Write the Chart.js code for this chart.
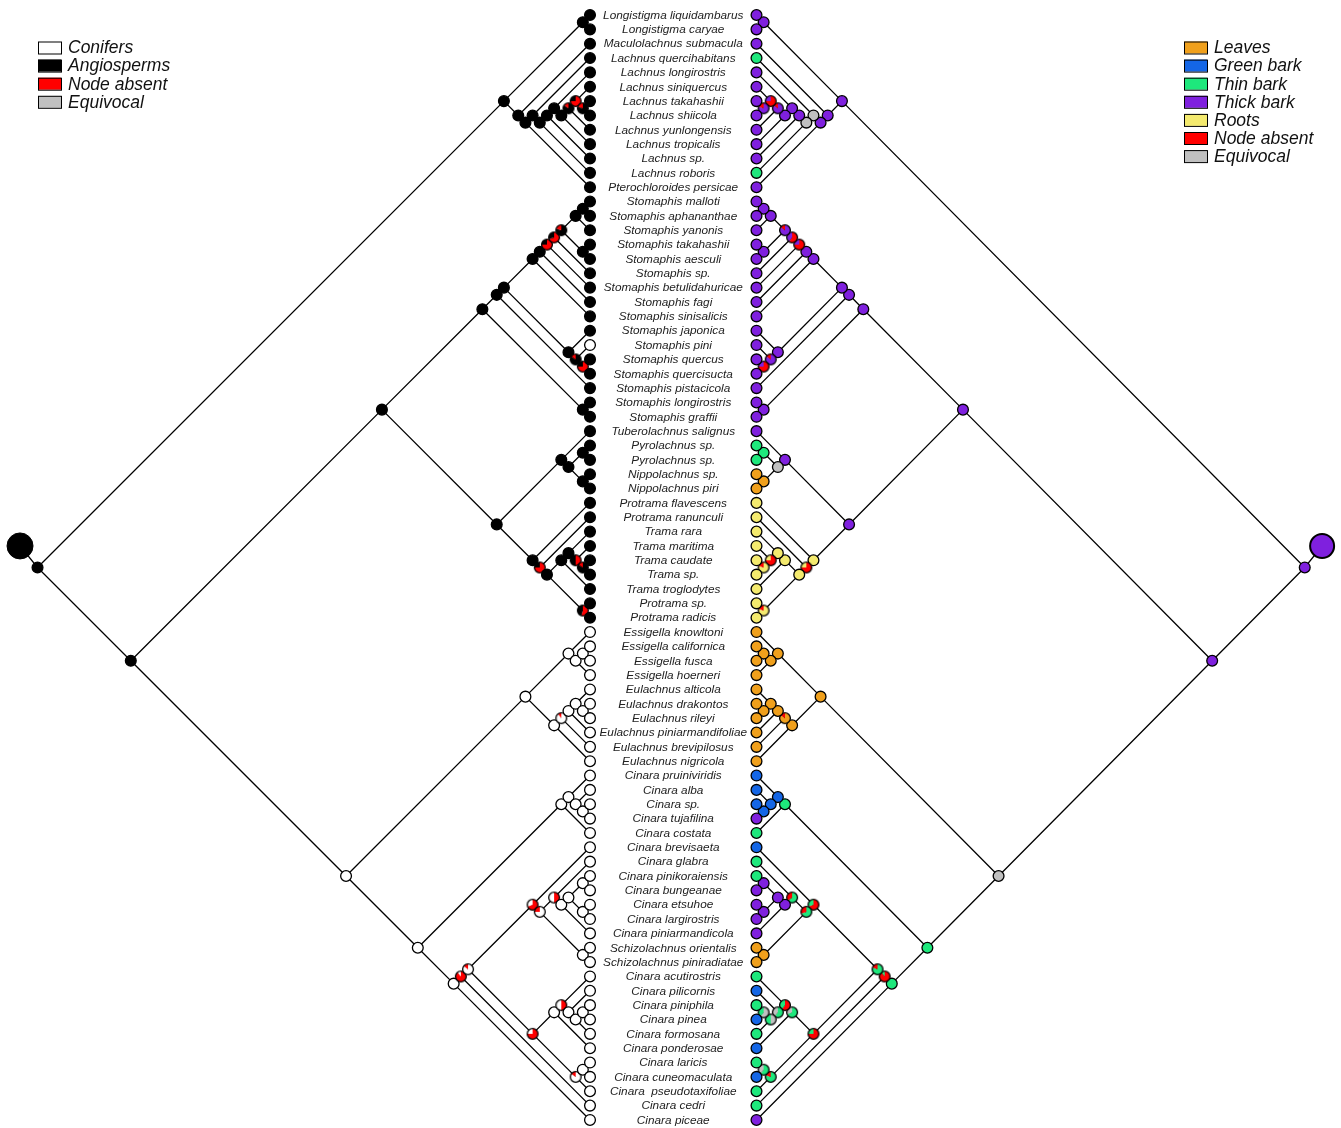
<!DOCTYPE html>
<html>
<head>
<meta charset="utf-8">
<script src="https://cdn.jsdelivr.net/npm/chart.js@4.4.1/dist/chart.umd.min.js"></script>
<style>
  html, body { margin: 0; background: #fff; }
  #wrap { width: 1341px; height: 1128px; position: relative; }
</style>
</head>
<body>
<div id="wrap"><canvas id="tree"></canvas></div>
<script>
// tip labels, top to bottom
const taxa = [
  'Longistigma liquidambarus', 'Longistigma caryae', 'Maculolachnus submacula',
  'Lachnus quercihabitans', 'Lachnus longirostris', 'Lachnus siniquercus', 'Lachnus takahashii',
  'Lachnus shiicola', 'Lachnus yunlongensis', 'Lachnus tropicalis', 'Lachnus sp.', 'Lachnus roboris',
  'Pterochloroides persicae',
  'Stomaphis malloti', 'Stomaphis aphananthae', 'Stomaphis yanonis', 'Stomaphis takahashii',
  'Stomaphis aesculi', 'Stomaphis sp.', 'Stomaphis betulidahuricae', 'Stomaphis fagi',
  'Stomaphis sinisalicis', 'Stomaphis japonica', 'Stomaphis pini', 'Stomaphis quercus',
  'Stomaphis quercisucta', 'Stomaphis pistacicola', 'Stomaphis longirostris', 'Stomaphis graffii',
  'Tuberolachnus salignus', 'Pyrolachnus sp.', 'Pyrolachnus sp.', 'Nippolachnus sp.', 'Nippolachnus piri',
  'Protrama flavescens', 'Protrama ranunculi', 'Trama rara', 'Trama maritima', 'Trama caudate',
  'Trama sp.', 'Trama troglodytes', 'Protrama sp.', 'Protrama radicis',
  'Essigella knowltoni', 'Essigella californica', 'Essigella fusca', 'Essigella hoerneri',
  'Eulachnus alticola', 'Eulachnus drakontos', 'Eulachnus rileyi', 'Eulachnus piniarmandifoliae',
  'Eulachnus brevipilosus', 'Eulachnus nigricola',
  'Cinara pruiniviridis', 'Cinara alba', 'Cinara sp.', 'Cinara tujafilina', 'Cinara costata',
  'Cinara brevisaeta', 'Cinara glabra', 'Cinara pinikoraiensis', 'Cinara bungeanae', 'Cinara etsuhoe',
  'Cinara largirostris', 'Cinara piniarmandicola', 'Schizolachnus orientalis', 'Schizolachnus piniradiatae',
  'Cinara acutirostris', 'Cinara pilicornis', 'Cinara piniphila', 'Cinara pinea', 'Cinara formosana',
  'Cinara ponderosae', 'Cinara laricis', 'Cinara cuneomaculata', 'Cinara  pseudotaxifoliae',
  'Cinara cedri', 'Cinara piceae'
];

// host at tips: A angiosperm, C conifer
const hostTips = ('AAAAAAAAAAAAA' + 'AAAAAAAAAACAAAAA' + 'AAAAAAAAAAAAAA' +
  'CCCCCCCCCC' + 'CCCCCCCCCCCCCCCCCCCCCCCCC').split('');

// feeding site at tips: T thick bark, N thin bark, G green bark, L leaves, R roots
const feedTips = ('TTTNTTTTTTTNT' + 'TTTTTTTTTTTTTTTT' + 'TNNLL' + 'RRRRRRRRR' +
  'LLLLLLLLLL' + 'GGGTNGNNTTTTLLNGNGNGNGNNT').split('');

// internal nodes: [first tip, last tip of upper child, last tip, host state, feeding state]
// X = node absent, Q = equivocal, 'a:p b:q' = pie with shares
const clades = [
  [0, 12, 77, 'A', 'T'],
  [0, 1, 12, 'A', 'T'],
  [0, 0, 1, 'A', 'T'],
  [2, 2, 12, 'A', 'T'],
  [3, 11, 12, 'A', 'T'],
  [3, 3, 11, 'A', 'Q'],
  [4, 10, 11, 'A', 'Q'],
  [4, 9, 10, 'A', 'T'],
  [4, 4, 9, 'A', 'T'],
  [5, 8, 9, 'A', 'T'],
  [5, 7, 8, 'A:85 X:15', 'T:85 X:15'],
  [5, 5, 7, 'X:75 A:25', 'X:75 T:25'],
  [6, 6, 7, 'A:80 X:20', 'T:80 X:20'],
  [13, 42, 77, 'A', 'T'],
  [13, 28, 42, 'A', 'T'],
  [13, 26, 28, 'A', 'T'],
  [27, 27, 28, 'A', 'T'],
  [13, 25, 26, 'A', 'T'],
  [13, 21, 25, 'A', 'T'],
  [22, 22, 25, 'A', 'T'],
  [23, 23, 25, 'A:85 X:15', 'T:85 X:15'],
  [24, 24, 25, 'X:75 A:25', 'X:75 T:25'],
  [13, 20, 21, 'A', 'T'],
  [13, 19, 20, 'A', 'T'],
  [13, 18, 19, 'X:75 A:25', 'X:75 T:25'],
  [13, 17, 18, 'X:70 A:30', 'X:60 T:40'],
  [13, 15, 17, 'A:80 X:20', 'T:85 X:15'],
  [16, 16, 17, 'A', 'T'],
  [13, 14, 15, 'A', 'T'],
  [13, 13, 14, 'A', 'T'],
  [29, 33, 42, 'A', 'T'],
  [29, 29, 33, 'A', 'T'],
  [30, 31, 33, 'A', 'Q'],
  [30, 30, 31, 'A', 'N'],
  [32, 32, 33, 'A', 'L'],
  [34, 34, 42, 'A', 'R'],
  [35, 35, 42, 'X:75 A:25', 'X:75 R:25'],
  [36, 40, 42, 'A', 'R'],
  [41, 41, 42, 'X:55 A:45', 'R:80 X:20'],
  [36, 39, 40, 'A', 'R'],
  [36, 36, 39, 'A', 'R'],
  [37, 37, 39, 'X:50 A:50', 'X:75 R:25'],
  [38, 38, 39, 'A:85 X:15', 'R:80 X:20'],
  [43, 52, 77, 'C', 'Q'],
  [43, 46, 52, 'C', 'L'],
  [43, 43, 46, 'C', 'L'],
  [44, 45, 46, 'C', 'L'],
  [44, 44, 45, 'C', 'L'],
  [47, 51, 52, 'C', 'L'],
  [47, 50, 51, 'C:90 X:10', 'L:85 X:15'],
  [47, 49, 50, 'C', 'L'],
  [47, 47, 49, 'C', 'L'],
  [48, 48, 49, 'C', 'L'],
  [53, 57, 77, 'C', 'N'],
  [53, 56, 57, 'C', 'N'],
  [53, 53, 56, 'C', 'G'],
  [54, 54, 56, 'C', 'G'],
  [55, 55, 56, 'C', 'G'],
  [58, 76, 77, 'C', 'N'],
  [58, 75, 76, 'X:90 C:10', 'X:90 N:10'],
  [58, 66, 75, 'C:85 X:15', 'N:80 X:20'],
  [58, 58, 66, 'X:70 C:30', 'X:70 N:30'],
  [59, 64, 66, 'C:75 X:25', 'N:70 X:30'],
  [65, 65, 66, 'C', 'L'],
  [59, 59, 64, 'X:50 C:50', 'N:65 X:35'],
  [60, 63, 64, 'C', 'T'],
  [60, 61, 63, 'C', 'T'],
  [60, 60, 61, 'C', 'T'],
  [62, 62, 63, 'C', 'T'],
  [67, 72, 75, 'X:75 C:25', 'X:75 N:25'],
  [73, 74, 75, 'C:85 X:15', 'N:80 X:20'],
  [73, 73, 74, 'C', 'N:60 Q:40'],
  [67, 71, 72, 'C', 'N:70 Q:30'],
  [67, 67, 71, 'X:50 C:50', 'X:60 N:40'],
  [68, 68, 71, 'C', 'N:60 Q:40'],
  [69, 70, 71, 'C', 'Q:50 N:50'],
  [69, 69, 70, 'C', 'Q:60 N:40']
];

const hostLegend = [['C', 'Conifers'], ['A', 'Angiosperms'], ['X', 'Node absent'], ['Q', 'Equivocal']];
const feedLegend = [['L', 'Leaves'], ['G', 'Green bark'], ['N', 'Thin bark'], ['T', 'Thick bark'],
  ['R', 'Roots'], ['X', 'Node absent'], ['Q', 'Equivocal']];

const hostColors = { A: '#000000', C: '#ffffff', X: '#ff0000', Q: '#c0c0c0' };
const feedColors = { L: '#f0a01c', G: '#1466e6', N: '#1ee87c', T: '#7f20de', R: '#f4ea6e', X: '#ff0000', Q: '#c0c0c0' };

// layout (pixels)
const W = 1341, H = 1128;
const leftTipPx = 590, rightTipPx = 756.5, topTipPx = 15;
const unitY = 14.35, unitL = 14.35, unitR = 14.24;

// slanted cladogram: node sits half its tip span away from the tips
function nodePos(lo, hi, side) {
  return { x: side * (hi - lo) / 2, y: (lo + hi) / 2 };
}

function rootSymbol(side) {
  const r = nodePos(0, 77, side);
  return { x: r.x + side * 1.22, y: r.y - 1.5 };
}

function buildEdges(side) {
  const pts = [];
  clades.forEach(([lo, s, hi]) => {
    const p = nodePos(lo, hi, side);
    [[lo, s], [s + 1, hi]].forEach(([a, b]) => {
      pts.push(p, nodePos(a, b, side), { x: null, y: null });
    });
  });
  // stem to the root symbol
  pts.push(nodePos(0, 77, side), rootSymbol(side));
  return pts;
}

function buildNodes(side, tipStates, col) {
  const pts = clades.map(c => Object.assign(nodePos(c[0], c[2], side), { s: c[col] }));
  tipStates.forEach((s, i) => pts.push({ x: 0, y: i, s: s }));
  return pts;
}

const pieCache = {};
function pieImage(state, colors) {
  const key = state + JSON.stringify(colors);
  if (pieCache[key]) return pieCache[key];
  const parts = state.split(' ').map(t => { const [c, p] = t.split(':'); return [c, +p]; });
  const size = 14, c = size / 2, r = 5.4;
  const cv = document.createElement('canvas');
  cv.width = cv.height = size;
  const g = cv.getContext('2d');
  let a = -Math.PI / 2;
  parts.forEach(([code, pct]) => {
    const b = a + pct / 100 * 2 * Math.PI;
    g.beginPath(); g.moveTo(c, c); g.arc(c, c, r, a, b); g.closePath();
    g.fillStyle = colors[code]; g.fill();
    a = b;
  });
  g.beginPath(); g.arc(c, c, r, 0, 2 * Math.PI);
  g.lineWidth = 1.3; g.strokeStyle = '#000'; g.stroke();
  pieCache[key] = cv;
  return cv;
}

function nodeDataset(data, colors, axis) {
  return {
    data: data, xAxisID: axis, order: 1,
    pointRadius: 5.4,
    borderWidth: 1.3,
    borderColor: '#000',
    backgroundColor: ctx => (ctx.raw && colors[ctx.raw.s]) || '#fff',
    pointStyle: ctx => (ctx.raw && ctx.raw.s.indexOf(':') >= 0) ? pieImage(ctx.raw.s, colors) : 'circle'
  };
}

function edgeDataset(data, axis) {
  return {
    data: data, xAxisID: axis, order: 2, showLine: true,
    borderColor: '#000', borderWidth: 1.3, pointRadius: 0, spanGaps: false
  };
}

const labelPlugin = {
  id: 'tipLabels',
  afterDatasetsDraw(chart) {
    const ctx = chart.ctx, ys = chart.scales.y;
    const cx = (chart.scales.x.getPixelForValue(0) + chart.scales.xr.getPixelForValue(0)) / 2;
    ctx.save();
    ctx.font = 'italic 11.8px "Liberation Sans", Arial, sans-serif';
    ctx.fillStyle = '#222';
    ctx.textAlign = 'center';
    ctx.textBaseline = 'middle';
    taxa.forEach((t, i) => ctx.fillText(t, cx, ys.getPixelForValue(i) + 0.5));

    const legend = (items, colors, x0, y0) => {
      ctx.font = 'italic 17.5px "Liberation Sans", Arial, sans-serif';
      ctx.textAlign = 'left';
      items.forEach(([code, name], i) => {
        const y = y0 + i * 18.1;
        ctx.fillStyle = colors[code];
        ctx.fillRect(x0, y - 6, 23, 12);
        ctx.lineWidth = 1; ctx.strokeStyle = '#000';
        ctx.strokeRect(x0 + 0.5, y - 5.5, 23, 12);
        ctx.fillStyle = '#111';
        ctx.fillText(name, x0 + 30, y + 1);
      });
    };
    legend(hostLegend, hostColors, 38, 47.5);
    legend(feedLegend, feedColors, 1184, 47.5);
    ctx.restore();
  }
};

new Chart(document.getElementById('tree'), {
  type: 'scatter',
  data: {
    datasets: [
      edgeDataset(buildEdges(-1), 'x'),
      edgeDataset(buildEdges(1), 'xr'),
      nodeDataset(buildNodes(-1, hostTips, 3), hostColors, 'x'),
      nodeDataset(buildNodes(1, feedTips, 4), feedColors, 'xr'),
      { data: [rootSymbol(-1)], xAxisID: 'x', order: 1, pointRadius: 13, borderWidth: 1, borderColor: '#000', backgroundColor: '#000' },
      { data: [rootSymbol(1)], xAxisID: 'xr', order: 1, pointRadius: 12, borderWidth: 2, borderColor: '#000', backgroundColor: feedColors.T }
    ]
  },
  options: {
    responsive: true,
    maintainAspectRatio: false,
    animation: false,
    events: [],
    layout: { padding: 0, autoPadding: false },
    plugins: { legend: { display: false }, tooltip: { enabled: false } },
    scales: {
      x: { type: 'linear', axis: 'x', display: false, min: -leftTipPx / unitL, max: (W - leftTipPx) / unitL },
      xr: { type: 'linear', axis: 'x', display: false, min: -rightTipPx / unitR, max: (W - rightTipPx) / unitR },
      y: { type: 'linear', display: false, reverse: true, min: -topTipPx / unitY, max: (H - topTipPx) / unitY }
    }
  },
  plugins: [labelPlugin]
});
</script>
</body>
</html>
